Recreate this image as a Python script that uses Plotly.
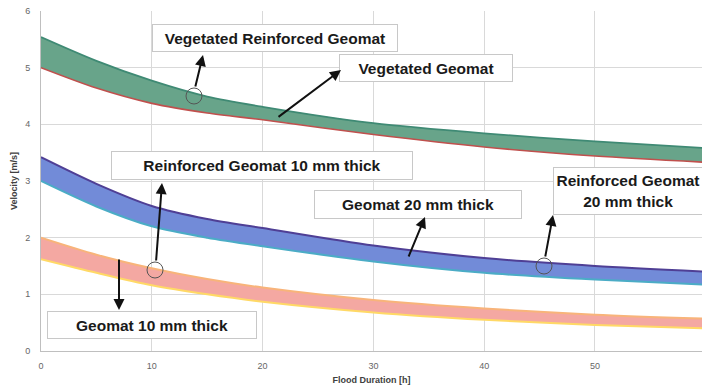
import plotly.graph_objects as go

# Flood duration (h) and flow velocities (m/s) for each lining type
hours = [0, 5, 10, 15, 20, 30, 40, 50, 60]
veg_reinforced_geomat = [5.54, 5.12, 4.77, 4.49, 4.31, 4.02, 3.84, 3.70, 3.58]
veg_geomat = [5.00, 4.64, 4.37, 4.20, 4.08, 3.82, 3.60, 3.44, 3.33]
reinforced_geomat_20 = [3.42, 2.95, 2.56, 2.33, 2.17, 1.86, 1.64, 1.50, 1.40]
geomat_20 = [3.00, 2.55, 2.20, 2.00, 1.85, 1.58, 1.38, 1.26, 1.17]
reinforced_geomat_10 = [2.00, 1.70, 1.46, 1.27, 1.12, 0.90, 0.75, 0.64, 0.57]
geomat_10 = [1.62, 1.38, 1.16, 1.00, 0.87, 0.68, 0.55, 0.46, 0.40]

x_ticks = [0, 10, 20, 30, 40, 50, 60]
y_ticks = [0, 1, 2, 3, 4, 5, 6]

W, H = 702, 389
M_L, M_R, M_T, M_B = 41, 0, 11, 38
X_MAX = 59.66
Y_MAX = 6

FONT = "Arial, Liberation Sans, sans-serif"


def to_data(px, py):
    """Convert a page pixel position to axis coordinates."""
    pw = W - M_L - M_R
    ph = H - M_T - M_B
    return (px - M_L) / pw * X_MAX, (H - M_B - py) / ph * Y_MAX


fig = go.Figure()


def band(lower, upper, fill, lower_color, upper_color, lw_low=2, lw_up=2):
    fig.add_trace(go.Scatter(x=hours, y=lower, mode="lines",
                             line=dict(color=lower_color, width=lw_low, shape="spline", smoothing=0.8),
                             hoverinfo="skip"))
    fig.add_trace(go.Scatter(x=hours, y=upper, mode="lines", fill="tonexty", fillcolor=fill,
                             line=dict(color=upper_color, width=lw_up, shape="spline", smoothing=0.8),
                             hoverinfo="skip"))


band(veg_geomat, veg_reinforced_geomat, "rgb(104,164,138)", "#c0504d", "#3f8a74", 1.6, 1.8)
band(geomat_20, reinforced_geomat_20, "rgb(114,139,216)", "#4bacc6", "#4f3f95")
band(geomat_10, reinforced_geomat_10, "rgb(244,168,162)", "#ffd966", "#f8b47a")

annotations = []
shapes = []


def box(text, cx, cy, w, h, size=15.5):
    x, y = to_data(cx, cy)
    annotations.append(dict(x=x, y=y, xref="x", yref="y", text=text, showarrow=False,
                            xanchor="center", yanchor="middle", width=w, height=h,
                            bgcolor="white", bordercolor="#c8c8c8", borderwidth=1, borderpad=0,
                            font=dict(family=FONT, size=size, color="#1a1a1a", weight="bold")))


def arrow(tail, head):
    hx, hy = to_data(*head)
    tx, ty = to_data(*tail)
    annotations.append(dict(x=hx, y=hy, ax=tx, ay=ty, xref="x", yref="y", axref="x", ayref="y",
                            text="", showarrow=True, arrowhead=2, arrowsize=1.1,
                            arrowwidth=2, arrowcolor="#111111"))


def ring(cx, cy, r=8):
    x, y = to_data(cx, cy)
    shapes.append(dict(type="circle", xref="x", yref="y", xsizemode="pixel", ysizemode="pixel",
                       xanchor=x, yanchor=y, x0=-r, x1=r, y0=-r, y1=r,
                       line=dict(color="#555555", width=1)))


box("Vegetated Reinforced Geomat", 275, 38, 244, 26)
box("Vegetated Geomat", 426, 68, 172, 26)
box("Reinforced Geomat 10 mm thick", 262, 165, 300, 27)
box("Geomat 20 mm thick", 418, 204, 206, 27)
box("Reinforced Geomat<br>20 mm thick", 628, 191, 148, 46)
box("Geomat 10 mm thick", 152, 325, 208, 26)

ring(194, 96)
ring(155, 270, 8)
ring(544, 266)

arrow((195, 88), (203, 55))
arrow((277, 118), (341, 70))
arrow((156, 262), (162, 183))
arrow((119, 258), (119, 310))
arrow((408, 258), (425, 217))
arrow((545, 258), (553, 215))

fig.update_layout(
    width=W, height=H,
    margin=dict(l=M_L, r=M_R, t=M_T, b=M_B, pad=0),
    paper_bgcolor="white", plot_bgcolor="white",
    showlegend=False,
    annotations=annotations,
    shapes=shapes,
    font=dict(family=FONT, color="#595959"),
)

fig.update_xaxes(range=[0, X_MAX], tickvals=x_ticks, showgrid=True, gridcolor="#d9d9d9", gridwidth=1,
                 showline=True, linecolor="#bfbfbf", zeroline=False, ticks="", ticklabelstandoff=6,
                 tickfont=dict(size=9, color="#666666", family=FONT),
                 title=dict(text="Flood Duration [h]", standoff=6,
                            font=dict(size=9, color="#404040", family=FONT, weight="bold")))
fig.update_yaxes(range=[0, Y_MAX], tickvals=y_ticks, showgrid=True, gridcolor="#d9d9d9", gridwidth=1,
                 showline=True, linecolor="#bfbfbf", zeroline=False, ticks="", ticklabelstandoff=8,
                 tickfont=dict(size=9, color="#666666", family=FONT),
                 title=dict(text="Velocity [m/s]", standoff=6,
                            font=dict(size=9, color="#404040", family=FONT, weight="bold")))

fig.write_html("out.html")
